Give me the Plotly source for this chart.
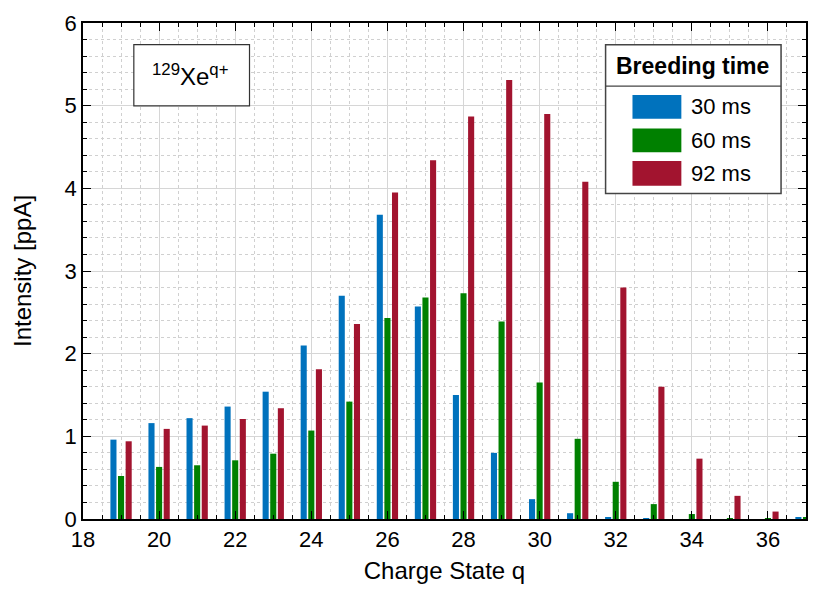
import plotly.graph_objects as go

charge_states = list(range(19, 38))
series_names = ["30 ms", "60 ms", "92 ms"]
series_colors = ["#0072BD", "#008000", "#A2142F"]

int_30ms = [0.96, 1.16, 1.22, 1.36, 1.54, 2.10, 2.70, 3.68, 2.57, 1.50, 0.80, 0.24, 0.07, 0.02, 0.008, 0.0, 0.0, 0.0, 0.02]
int_60ms = [0.52, 0.63, 0.65, 0.71, 0.79, 1.07, 1.42, 2.43, 2.68, 2.73, 2.39, 1.65, 0.97, 0.45, 0.18, 0.06, 0.01, 0.005, 0.02]
int_92ms = [0.94, 1.09, 1.13, 1.21, 1.34, 1.81, 2.36, 3.95, 4.34, 4.87, 5.31, 4.90, 4.08, 2.80, 1.60, 0.73, 0.28, 0.09, 0.0]

x_tick_vals = [18, 20, 22, 24, 26, 28, 30, 32, 34, 36]
y_tick_vals = [0, 1, 2, 3, 4, 5, 6]

FONT = "Liberation Sans, Arial, sans-serif"

fig = go.Figure()
for name, vals, col in zip(series_names, [int_30ms, int_60ms, int_92ms], series_colors):
    fig.add_trace(go.Bar(x=charge_states, y=vals, name=name, marker_color=col,
                         marker_line_width=0, showlegend=False))

axis_common = dict(
    showline=True, linecolor="black", linewidth=1.8, mirror="allticks",
    ticks="inside", ticklen=8, tickwidth=1.2, tickcolor="black",
    showgrid=True, gridcolor="#d6d6d6", gridwidth=1,
    zeroline=False,
    tickfont=dict(family=FONT, size=22, color="black"),
)

fig.update_xaxes(
    range=[18, 37], tickvals=x_tick_vals,
    title=dict(text="Charge State q", font=dict(family=FONT, size=24, color="black"), standoff=11),
    minor=dict(dtick=0.5, tick0=18, ticks="inside", ticklen=4, tickcolor="black",
               showgrid=True, gridcolor="#d0d0d0", griddash="dot", gridwidth=1),
    **axis_common,
)
fig.update_yaxes(
    range=[0, 6], tickvals=y_tick_vals,
    title=dict(text="Intensity [ppA]", font=dict(family=FONT, size=24, color="black"), standoff=26),
    minor=dict(dtick=0.2, tick0=0, ticks="inside", ticklen=4, tickcolor="black",
               showgrid=True, gridcolor="#d0d0d0", griddash="dot", gridwidth=1),
    **axis_common,
)

shapes = []
annotations = []

# sample label box
shapes.append(dict(type="rect", xref="paper", yref="paper", x0=0.0703, x1=0.2303, y0=0.833, y1=0.9563,
                   line=dict(color="#333333", width=1.2), fillcolor="white", layer="above"))
annotations.append(dict(xref="paper", yref="paper", x=0.148, y=0.8946, showarrow=False,
                        text="<sup>129</sup>Xe<sup>q+</sup>", font=dict(family=FONT, size=24, color="black"),
                        xanchor="center", yanchor="middle"))

# legend box
shapes.append(dict(type="rect", xref="paper", yref="paper", x0=0.7228, x1=0.9655, y0=0.6561, y1=0.9563,
                   line=dict(color="#444444", width=1.5), fillcolor="white", layer="above"))
shapes.append(dict(type="line", xref="paper", yref="paper", x0=0.7228, x1=0.9655, y0=0.8728, y1=0.8728,
                   line=dict(color="#444444", width=1.2), layer="above"))
annotations.append(dict(xref="paper", yref="paper", x=0.8428, y=0.9125, showarrow=False,
                        text="<b>Breeding time</b>", font=dict(family=FONT, size=23, color="black"),
                        xanchor="center", yanchor="middle"))
sw_y = [(0.8072, 0.8549), (0.7396, 0.7873), (0.672, 0.7217)]
for (y0, y1), name, col in zip(sw_y, series_names, series_colors):
    shapes.append(dict(type="rect", xref="paper", yref="paper", x0=0.760, x1=0.8276, y0=y0, y1=y1,
                       line=dict(width=0), fillcolor=col, layer="above"))
    annotations.append(dict(xref="paper", yref="paper", x=0.838, y=(y0 + y1) / 2, showarrow=False,
                            text=name, font=dict(family=FONT, size=22, color="black"),
                            xanchor="left", yanchor="middle"))

fig.update_layout(
    width=819, height=591,
    margin=dict(l=83, r=11, t=17, b=71),
    paper_bgcolor="white", plot_bgcolor="white",
    barmode="group", bargap=0.4, bargroupgap=0.2,
    shapes=shapes, annotations=annotations,
    font=dict(family=FONT, color="black"),
)

fig.write_html("out.html")
